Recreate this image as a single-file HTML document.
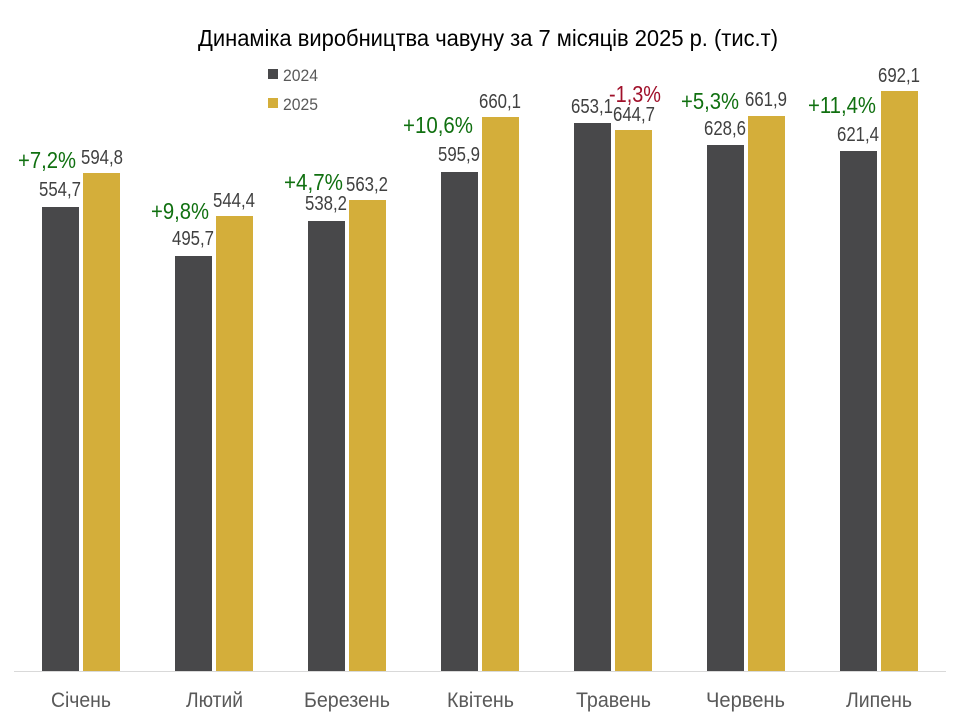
<!DOCTYPE html>
<html><head><meta charset="utf-8"><style>
html,body{margin:0;padding:0;background:#fff;}
svg{display:block;font-family:"Liberation Sans Narrow","Liberation Sans",sans-serif;}
</style></head><body>
<svg width="960" height="720" viewBox="0 0 960 720" xmlns="http://www.w3.org/2000/svg">
<rect width="960" height="720" fill="#fff"/>
<text x="488" y="46" font-size="23" text-anchor="middle" fill="#000" textLength="580" lengthAdjust="spacingAndGlyphs">Динаміка виробництва чавуну за 7 місяців 2025 р. (тис.т)</text>
<rect x="268" y="69" width="10" height="10" fill="#48484a"/>
<text x="283" y="81" font-size="17" fill="#595959" textLength="35" lengthAdjust="spacingAndGlyphs">2024</text>
<rect x="268" y="98" width="10" height="10" fill="#d4ae3a"/>
<text x="283" y="110" font-size="17" fill="#595959" textLength="35" lengthAdjust="spacingAndGlyphs">2025</text>
<line x1="14" y1="671.5" x2="946" y2="671.5" stroke="#d9d9d9" stroke-width="1"/>
<g>
<rect x="42" y="207" width="37" height="464" fill="#48484a"/><rect x="83" y="173" width="37" height="498" fill="#d4ae3a"/>
<rect x="175" y="256" width="37" height="415" fill="#48484a"/><rect x="216" y="216" width="37" height="455" fill="#d4ae3a"/>
<rect x="308" y="221" width="37" height="450" fill="#48484a"/><rect x="349" y="200" width="37" height="471" fill="#d4ae3a"/>
<rect x="441" y="172" width="37" height="499" fill="#48484a"/><rect x="482" y="117" width="37" height="554" fill="#d4ae3a"/>
<rect x="574" y="123" width="37" height="548" fill="#48484a"/><rect x="615" y="130" width="37" height="541" fill="#d4ae3a"/>
<rect x="707" y="145" width="37" height="526" fill="#48484a"/><rect x="748" y="116" width="37" height="555" fill="#d4ae3a"/>
<rect x="840" y="151" width="37" height="520" fill="#48484a"/><rect x="881" y="91" width="37" height="580" fill="#d4ae3a"/>
</g>
<g font-size="20" fill="#404040" text-anchor="middle" lengthAdjust="spacingAndGlyphs">
<text x="60" y="196" textLength="42" lengthAdjust="spacingAndGlyphs">554,7</text><text x="102" y="164" textLength="42" lengthAdjust="spacingAndGlyphs">594,8</text>
<text x="193" y="245" textLength="42" lengthAdjust="spacingAndGlyphs">495,7</text><text x="234" y="207" textLength="42" lengthAdjust="spacingAndGlyphs">544,4</text>
<text x="326" y="210" textLength="42" lengthAdjust="spacingAndGlyphs">538,2</text><text x="367" y="191" textLength="42" lengthAdjust="spacingAndGlyphs">563,2</text>
<text x="459" y="161" textLength="42" lengthAdjust="spacingAndGlyphs">595,9</text><text x="500" y="108" textLength="42" lengthAdjust="spacingAndGlyphs">660,1</text>
<text x="592" y="113" textLength="42" lengthAdjust="spacingAndGlyphs">653,1</text><text x="634" y="121" textLength="42" lengthAdjust="spacingAndGlyphs">644,7</text>
<text x="725" y="135" textLength="42" lengthAdjust="spacingAndGlyphs">628,6</text><text x="766" y="106" textLength="42" lengthAdjust="spacingAndGlyphs">661,9</text>
<text x="858" y="141" textLength="42" lengthAdjust="spacingAndGlyphs">621,4</text><text x="899" y="82" textLength="42" lengthAdjust="spacingAndGlyphs">692,1</text>
</g>
<g font-size="23" fill="#107010">
<text x="18" y="168" textLength="58" lengthAdjust="spacingAndGlyphs">+7,2%</text>
<text x="151" y="219" textLength="58" lengthAdjust="spacingAndGlyphs">+9,8%</text>
<text x="284" y="190" textLength="59" lengthAdjust="spacingAndGlyphs">+4,7%</text>
<text x="403" y="133" textLength="70" lengthAdjust="spacingAndGlyphs">+10,6%</text>
<text x="681" y="109" textLength="58" lengthAdjust="spacingAndGlyphs">+5,3%</text>
<text x="808" y="113" textLength="68" lengthAdjust="spacingAndGlyphs">+11,4%</text>
</g>
<text x="609" y="102" font-size="23" fill="#a0102a" textLength="52" lengthAdjust="spacingAndGlyphs">-1,3%</text>
<g font-size="21" fill="#595959">
<text x="51" y="707" textLength="60" lengthAdjust="spacingAndGlyphs">Січень</text>
<text x="186" y="707" textLength="57" lengthAdjust="spacingAndGlyphs">Лютий</text>
<text x="304" y="707" textLength="86" lengthAdjust="spacingAndGlyphs">Березень</text>
<text x="447" y="707" textLength="67" lengthAdjust="spacingAndGlyphs">Квітень</text>
<text x="576" y="707" textLength="75" lengthAdjust="spacingAndGlyphs">Травень</text>
<text x="706" y="707" textLength="79" lengthAdjust="spacingAndGlyphs">Червень</text>
<text x="846" y="707" textLength="66" lengthAdjust="spacingAndGlyphs">Липень</text>
</g>
</svg>
</body></html>
